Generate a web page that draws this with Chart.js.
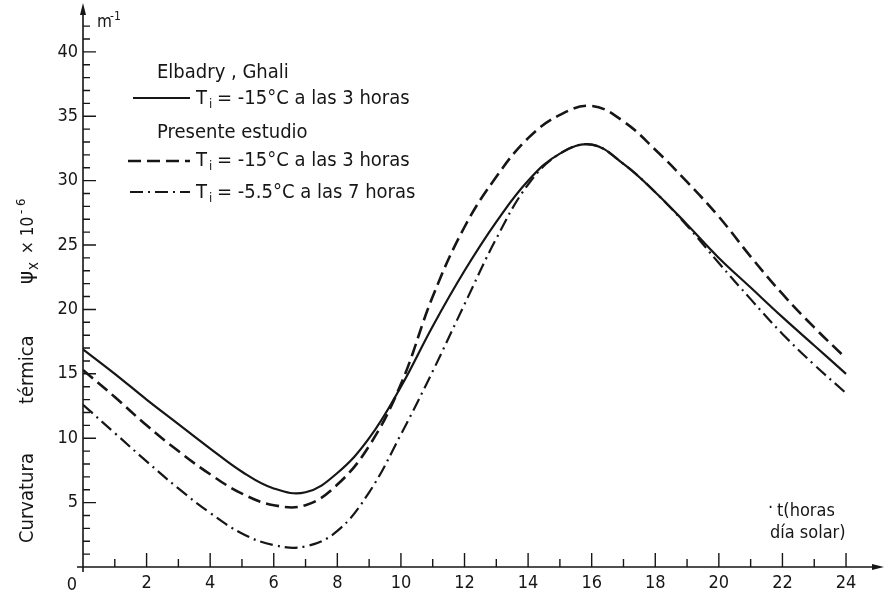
<!DOCTYPE html>
<html>
<head>
<meta charset="utf-8">
<script src="https://cdn.jsdelivr.net/npm/chart.js@4.4.1/dist/chart.umd.min.js"></script>
<style>
  html, body { margin: 0; padding: 0; background: #fff; }
  #wrap { width: 884px; height: 594px; }
</style>
</head>
<body>
<div id="wrap"><canvas id="chart" width="884" height="594"></canvas></div>
<script>
// Hours of the solar day
const hours = [0, 1, 2, 3, 4, 5, 6, 7, 8, 9, 10, 11, 12, 13, 14, 15, 16, 17, 18, 19, 20, 21, 22, 23, 24];

// Curvatura termica (x 10^-6 m^-1)
const elbadryGhali = [16.9, 15.0, 13.0, 11.1, 9.2, 7.4, 6.1, 5.8, 7.3, 10.0, 14.0, 18.7, 23.0, 26.8, 30.0, 32.1, 32.8, 31.3, 29.1, 26.6, 24.0, 21.7, 19.4, 17.2, 15.0];
const presente15 = [15.3, 13.2, 11.0, 9.0, 7.2, 5.7, 4.8, 4.8, 6.4, 9.4, 14.2, 21.0, 26.4, 30.3, 33.3, 35.1, 35.8, 34.6, 32.4, 29.9, 27.2, 24.1, 21.2, 18.6, 16.2];
const presente55 = [12.6, 10.4, 8.2, 6.1, 4.2, 2.6, 1.7, 1.6, 2.8, 5.8, 10.3, 15.2, 20.4, 25.5, 29.7, 32.1, 32.8, 31.3, 29.1, 26.5, 23.6, 20.8, 18.1, 15.7, 13.5];

const seriesNames = ["Elbadry, Ghali", "Presente estudio -15", "Presente estudio -5.5"];
const legendTexts = ["= -15°C a las 3 horas", "= -15°C a las 3 horas", "= -5.5°C a las 7 horas"];

// Tick labels
const xTickLabels = [0, 2, 4, 6, 8, 10, 12, 14, 16, 18, 20, 22, 24];
const yTickLabels = [5, 10, 15, 20, 25, 30, 35, 40];

const FONT = '"DejaVu Sans Condensed", "DejaVu Sans", sans-serif';
const INK = "#161616";

const toPoints = vals => hours.map((h, i) => ({ x: h, y: vals[i] }));

// Axes with arrows, inward ticks, titles and the hand-laid legend
const paperPlugin = {
    id: "paper",
    afterDraw(chart) {
        const ctx = chart.ctx;
        const xs = chart.scales.x;
        const ys = chart.scales.y;
        const x0 = xs.getPixelForValue(0);
        const y0 = ys.getPixelForValue(0);

        ctx.save();
        ctx.strokeStyle = INK;
        ctx.fillStyle = INK;
        ctx.lineWidth = 1.6;

        // axis lines
        ctx.beginPath();
        ctx.moveTo(x0, y0 + 5);
        ctx.lineTo(x0, 12);
        ctx.moveTo(x0 - 6, y0);
        ctx.lineTo(878, y0);
        ctx.stroke();

        // arrow heads
        ctx.beginPath();
        ctx.moveTo(x0, 3);
        ctx.lineTo(x0 - 3, 15);
        ctx.lineTo(x0 + 3, 15);
        ctx.closePath();
        ctx.fill();
        ctx.beginPath();
        ctx.moveTo(884, y0);
        ctx.lineTo(872, y0 - 3);
        ctx.lineTo(872, y0 + 3);
        ctx.closePath();
        ctx.fill();

        // inward ticks
        ctx.lineWidth = 1.4;
        ctx.beginPath();
        for (let v = 1; v <= 42; v++) {
            const py = ys.getPixelForValue(v);
            ctx.moveTo(x0, py);
            ctx.lineTo(x0 + (v % 5 === 0 ? 13 : 7), py);
        }
        for (let h = 1; h <= 24; h++) {
            const px = xs.getPixelForValue(h);
            ctx.moveTo(px, y0);
            ctx.lineTo(px, y0 - (h % 2 === 0 ? 14 : 8));
        }
        ctx.stroke();

        // origin label
        ctx.font = "18px " + FONT;
        ctx.textAlign = "center";
        ctx.textBaseline = "alphabetic";
        ctx.fillText(String(xTickLabels[0]), x0 - 11, 590);

        // unit at top of y axis
        ctx.textAlign = "left";
        ctx.font = "17px " + FONT;
        ctx.fillText("m", 97, 27);
        ctx.font = "12px " + FONT;
        ctx.fillText("-1", 110, 20);

        // x axis title
        ctx.font = "18px " + FONT;
        ctx.fillText("·", 768, 513);
        ctx.fillText("t(horas", 777, 516);
        ctx.fillText("día solar)", 770, 538);

        // y axis title, rotated
        ctx.save();
        ctx.translate(33, 0);
        ctx.rotate(-Math.PI / 2);
        ctx.font = "20px " + FONT;
        ctx.fillText("Curvatura", -543, 0);
        ctx.fillText("térmica", -404, 0);
        ctx.font = "22px " + FONT;
        ctx.fillText("ψ", -284, 0);
        ctx.font = "15px " + FONT;
        ctx.fillText("x", -270, 5);
        ctx.font = "17px " + FONT;
        ctx.fillText("× 10", -254, 0);
        ctx.font = "13px " + FONT;
        ctx.fillText("- 6", -214, -8);
        ctx.restore();

        // legend
        ctx.font = "20px " + FONT;
        ctx.fillText("Elbadry , Ghali", 157, 78);
        ctx.fillText("Presente estudio", 157, 138);
        const rows = [
            { y: 98, x1: 133, base: 104 },
            { y: 161, x1: 128, base: 166 },
            { y: 192, x1: 130, base: 198 }
        ];
        rows.forEach((r, i) => {
            const ds = chart.data.datasets[i];
            ctx.save();
            ctx.lineWidth = ds.borderWidth;
            ctx.setLineDash(ds.borderDash || []);
            ctx.beginPath();
            ctx.moveTo(r.x1, r.y);
            ctx.lineTo(190, r.y);
            ctx.stroke();
            ctx.restore();
            ctx.font = "20px " + FONT;
            ctx.fillText("T", 196, r.base);
            ctx.font = "13px " + FONT;
            ctx.fillText("i", 209, r.base + 4);
            ctx.font = "20px " + FONT;
            ctx.fillText(legendTexts[i], 217, r.base);
        });

        ctx.restore();
    }
};

new Chart(document.getElementById("chart"), {
    type: "line",
    data: {
        datasets: [
            {
                label: seriesNames[0],
                data: toPoints(elbadryGhali),
                borderColor: INK,
                borderWidth: 2.2
            },
            {
                label: seriesNames[1],
                data: toPoints(presente15),
                borderColor: INK,
                borderWidth: 2.6,
                borderDash: [13, 6]
            },
            {
                label: seriesNames[2],
                data: toPoints(presente55),
                borderColor: INK,
                borderWidth: 2.2,
                borderDash: [13, 5, 2, 5]
            }
        ]
    },
    options: {
        responsive: false,
        animation: false,
        devicePixelRatio: 1,
        layout: { padding: { left: 0, top: 11, right: 3, bottom: 0 } },
        elements: {
            point: { radius: 0 },
            line: { tension: 0.4, fill: false }
        },
        plugins: {
            legend: { display: false },
            tooltip: { enabled: false }
        },
        scales: {
            x: {
                type: "linear",
                min: 0,
                max: 25.1,
                grid: { display: false, drawTicks: false },
                border: { display: false },
                afterBuildTicks: s => { s.ticks = xTickLabels.filter(v => v > 0).map(v => ({ value: v })); },
                afterFit: s => { s.height = 27; },
                ticks: {
                    color: INK,
                    padding: 6,
                    maxRotation: 0,
                    font: { family: FONT, size: 18 }
                }
            },
            y: {
                min: 0,
                max: 42.8,
                grid: { display: false, drawTicks: false },
                border: { display: false },
                afterBuildTicks: s => { s.ticks = yTickLabels.map(v => ({ value: v })); },
                afterFit: s => { s.width = 83; },
                ticks: {
                    color: INK,
                    padding: 5,
                    font: { family: FONT, size: 18 }
                }
            }
        }
    },
    plugins: [paperPlugin]
});
</script>
</body>
</html>
